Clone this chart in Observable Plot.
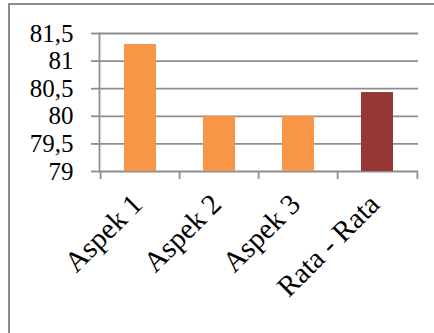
<!DOCTYPE html>
<html>
<head>
<meta charset="utf-8">
<script src="https://cdn.jsdelivr.net/npm/d3@7"></script>
<script src="https://cdn.jsdelivr.net/npm/@observablehq/plot@0.6"></script>
<style>
  html, body { margin: 0; padding: 0; background: #fff; overflow: hidden; width: 434px; height: 333px; }
  #frame { position: absolute; left: 8px; top: 3px; width: 600px; height: 500px; border: 2px solid #8c8c8c; box-sizing: border-box; }
  #chart { position: absolute; left: 0; top: 0; }
  #chart svg text { font-family: "Liberation Serif", "Times New Roman", serif; font-size: 25px; fill: #000; }
  #chart svg g[aria-label="x-axis tick label"] text { font-size: 29px; }
</style>
</head>
<body>
<div id="frame"></div>
<div id="chart"></div>
<script>
// Scores per aspect and the overall average
const categories = ["Aspek 1", "Aspek 2", "Aspek 3", "Rata - Rata"];
const scores = [81.3, 80, 80, 80.43];
const colors = ["#F79646", "#F79646", "#F79646", "#953735"];
const yTicks = [79, 79.5, 80, 80.5, 81, 81.5];

const rows = categories.map((c, i) => ({category: c, score: scores[i], color: colors[i]}));
const comma = d => String(d).replace(".", ",");
const grid = "#8e8e8e";

const W = 434, mL = 99, mR = 16;
const band = (W - mL - mR) / categories.length;
// Separator ticks sit on the band edges: left edge of every band plus the right edge of the last
const edges = categories.map(c => ({c, dx: -band / 2})).concat([{c: categories[categories.length - 1], dx: band / 2}]);

const chart = Plot.plot({
  width: W,
  height: 333,
  marginLeft: mL,
  marginRight: mR,
  marginTop: 33,
  marginBottom: 162,
  style: {background: "transparent", overflow: "visible"},
  x: {domain: categories, paddingInner: 0.6, paddingOuter: 0.3, label: null},
  y: {domain: [79, 81.5], label: null},
  marks: [
    Plot.ruleY(yTicks, {stroke: grid, strokeWidth: 1.8}),
    Plot.axisY({ticks: yTicks, tickFormat: comma, tickSize: 8, tickPadding: 18, stroke: grid, strokeWidth: 1.8, strokeOpacity: 1, label: null}),
    Plot.frame({anchor: "left", stroke: grid, strokeWidth: 1.8}),
    Plot.axisX({tickRotate: -45, tickSize: 0, tickPadding: 28, dx: -3, label: null}),
    ...edges.map(e => Plot.ruleX([e], {x: "c", dx: e.dx, y1: 79, y2: 79, insetBottom: -8, stroke: grid, strokeWidth: 1.8})),
    Plot.rectY(rows, {x: "category", y1: 79, y2: "score", fill: "color"})
  ]
});

document.getElementById("chart").appendChild(chart);
</script>
</body>
</html>
